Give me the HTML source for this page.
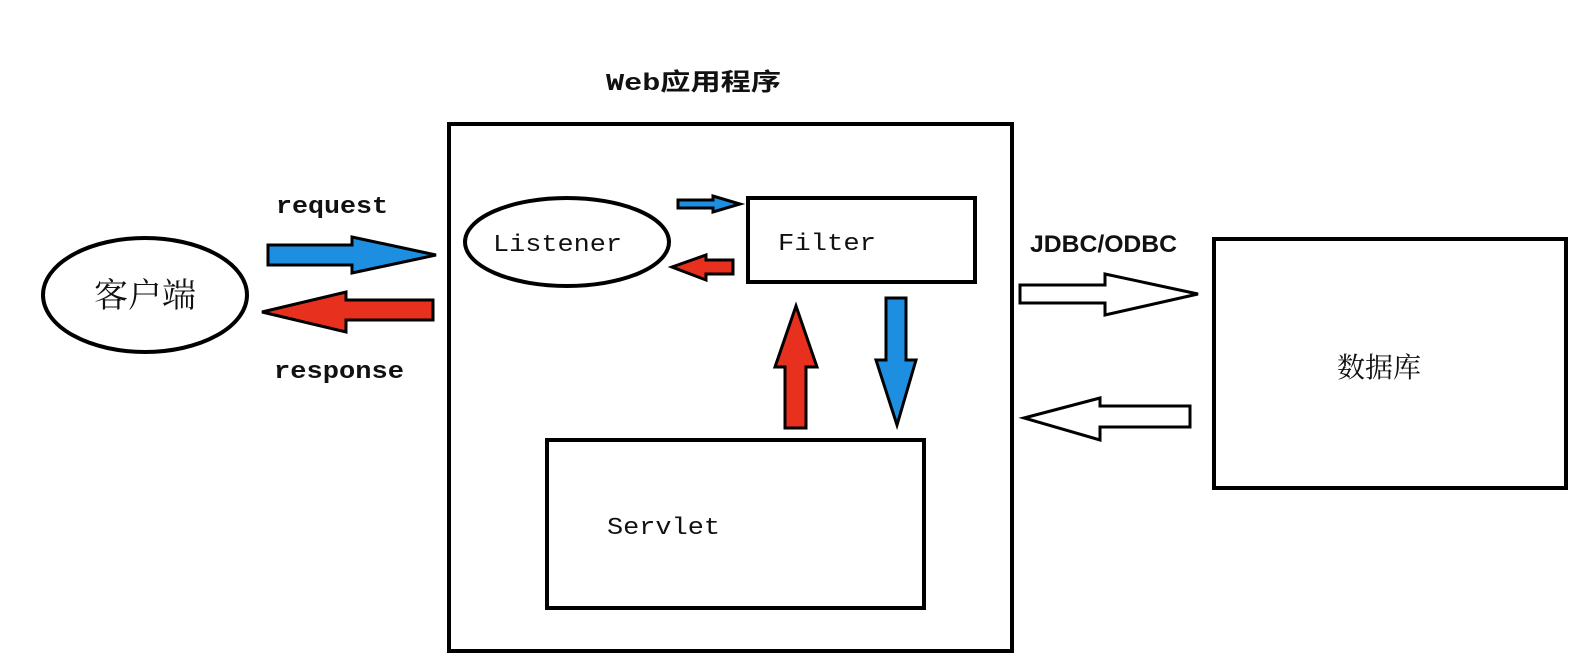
<!DOCTYPE html>
<html><head><meta charset="utf-8"><style>html,body{margin:0;padding:0;background:#fff}svg{display:block}</style></head>
<body>
<svg width="1572" height="666" viewBox="0 0 1572 666" xmlns="http://www.w3.org/2000/svg">
<rect width="1572" height="666" fill="#fff"/>
<g fill="none" stroke="#000" stroke-width="4">
<rect x="449" y="124" width="563" height="527"/>
<ellipse cx="145" cy="295" rx="102" ry="57"/>
<ellipse cx="567" cy="242" rx="102" ry="44"/>
<rect x="748" y="198" width="227" height="84"/>
<rect x="547" y="440" width="377" height="168"/>
<rect x="1214" y="239" width="352" height="249"/>
</g>
<g stroke="#000" stroke-width="3" stroke-linejoin="miter">
<polygon fill="#1e8fe0" points="268,245 352,245 352,237 436,255 352,273 352,265 268,265"/>
<polygon fill="#e8301e" points="262,312 346,292 346,300 433,300 433,320 346,320 346,332"/>
<polygon fill="#1e8fe0" points="678,200 713,200 713,196 740,204 713,212 713,208 678,208"/>
<polygon fill="#e8301e" points="672,267 706,255 706,260 733,260 733,274 706,274 706,280"/>
<polygon fill="#1e8fe0" points="886,298 906,298 906,360 916,360 897,425 876,360 886,360"/>
<polygon fill="#e8301e" points="796,306 817,367 806,367 806,428 785,428 785,367 775,367"/>
<polygon fill="#fff" points="1020,285 1105,285 1105,274 1198,294 1105,315 1105,303 1020,303"/>
<polygon fill="#fff" points="1024,418 1100,398 1100,406 1190,406 1190,427 1100,427 1100,440"/>
</g>
<g font-family="'Liberation Mono','Noto Sans CJK SC',monospace" font-weight="bold" font-size="24" fill="#111">
<text x="606" y="90" textLength="175" lengthAdjust="spacingAndGlyphs">Web应用程序</text>
<text x="276" y="213" textLength="112" lengthAdjust="spacingAndGlyphs">request</text>
<text x="274" y="378" textLength="130" lengthAdjust="spacingAndGlyphs">response</text>
<text x="1030" y="252" font-family="'Liberation Sans',sans-serif" textLength="147" lengthAdjust="spacingAndGlyphs">JDBC/ODBC</text>
<text x="493" y="251" textLength="129" lengthAdjust="spacingAndGlyphs" font-weight="normal">Listener</text>
<text x="778" y="250" textLength="98" lengthAdjust="spacingAndGlyphs" font-weight="normal">Filter</text>
<text x="607" y="534" textLength="113" lengthAdjust="spacingAndGlyphs" font-weight="normal">Servlet</text>
</g>
<g font-family="'Noto Serif CJK SC',serif" fill="#111">
<text x="145" y="307" font-size="34" text-anchor="middle">客户端</text>
<text x="1379" y="377" font-size="28" text-anchor="middle">数据库</text>
</g>
</svg>
</body></html>
